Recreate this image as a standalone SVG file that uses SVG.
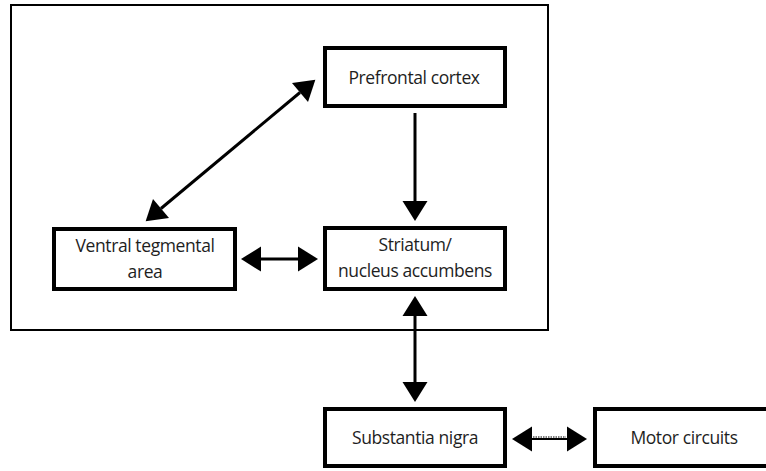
<svg xmlns="http://www.w3.org/2000/svg" width="766" height="471" viewBox="0 0 766 471">
  <style>
    .frame { fill: none; stroke: #000; stroke-width: 2; }
    .box { fill: #fff; stroke: #000; stroke-width: 4; }
    .label { font-family: "Open Sans", "DejaVu Sans", sans-serif; font-size: 17.5px; letter-spacing: -0.4px; fill: #1e1e1e; text-anchor: middle; }
    .link { stroke: #000; stroke-width: 3; fill: none; }
    .thin { stroke-width: 2; }
    .dots { stroke: #000; stroke-width: 1; stroke-dasharray: 1.5 1; }
  </style>
  <defs>
    <marker id="head" markerUnits="userSpaceOnUse" markerWidth="22" markerHeight="26" refX="0" refY="12.5" orient="auto-start-reverse" overflow="visible">
      <path d="M0,0 L20,12.5 L0,25 z" fill="#000"/>
    </marker>
  </defs>

  <rect width="766" height="471" fill="#fff"/>

  <!-- enclosing frame -->
  <rect class="frame" x="11" y="5" width="537" height="325"/>

  <g id="prefrontal-cortex">
    <rect class="box" x="325" y="48" width="180" height="58"/>
    <text class="label" x="414" y="84">Prefrontal cortex</text>
  </g>

  <g id="ventral-tegmental-area">
    <rect class="box" x="54" y="229" width="181" height="60"/>
    <text class="label" x="145" y="252">Ventral tegmental</text>
    <text class="label" x="145" y="278">area</text>
  </g>

  <g id="striatum">
    <rect class="box" x="325" y="228" width="180" height="61"/>
    <text class="label" x="415" y="251">Striatum/</text>
    <text class="label" x="415" y="277">nucleus accumbens</text>
  </g>

  <g id="substantia-nigra">
    <rect class="box" x="325" y="409" width="180" height="57"/>
    <text class="label" x="415" y="444">Substantia nigra</text>
  </g>

  <g id="motor-circuits">
    <rect class="box" x="595" y="409" width="182" height="57"/>
    <text class="label" x="684" y="444">Motor circuits</text>
  </g>

  <g id="connectors">
    <line class="link" x1="161" y1="208.5" x2="300" y2="92.5" marker-start="url(#head)" marker-end="url(#head)"/>
    <line class="link" x1="415" y1="113" x2="415" y2="201" marker-end="url(#head)"/>
    <line class="link" x1="261" y1="259" x2="298" y2="259" marker-start="url(#head)" marker-end="url(#head)"/>
    <line class="link" x1="415" y1="316" x2="415" y2="382" marker-start="url(#head)" marker-end="url(#head)"/>
    <!-- solid base stroke with a dotted upper edge -->
    <line class="link thin" x1="532" y1="439" x2="567" y2="439" marker-start="url(#head)" marker-end="url(#head)"/>
    <line class="dots" x1="533" y1="437" x2="566" y2="437"/>
  </g>
</svg>
